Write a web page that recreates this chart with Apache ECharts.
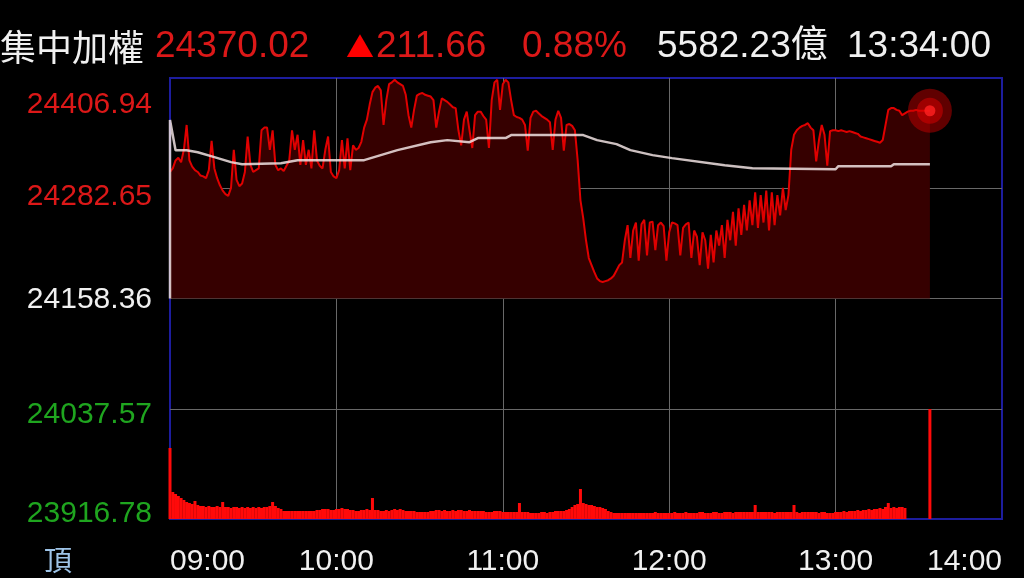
<!DOCTYPE html>
<html>
<head>
<meta charset="utf-8">
<script src="https://cdn.jsdelivr.net/npm/echarts@6/dist/echarts.min.js"></script>
<style>
html,body{margin:0;padding:0;background:#000;}
#chart{width:1024px;height:578px;}
</style>
</head>
<body>
<div id="chart"></div>
<script>
// ---- header values ----
const indexName = '集中加權';
const lastPriceText = '24370.02';
const changeArrow = '▲';
const changeText = '211.66';
const changePctText = '0.88%';
const turnoverText = '5582.23億';
const timeText = '13:34:00';
const topButtonText = '頂';

// ---- axis tick labels ----
const prevClose = 24158.36;
const yTickLabels = ['23916.78', '24037.57', '24158.36', '24282.65', '24406.94'];
const xTickLabels = ['09:00', '10:00', '11:00', '12:00', '13:00', '14:00'];

// ---- price per minute from 09:00 (index = minutes after 09:00) ----
const priceByMinute = [
  24301,24305,24314,24317,24312,24326,24354,24314,24307,24303,
  24301,24297,24296,24294,24303,24336,24305,24294,24286,24280,
  24276,24274,24283,24326,24292,24285,24288,24301,24341,24309,
  24301,24303,24305,24348,24351,24351,24326,24348,24309,24303,
  24305,24302,24308,24314,24348,24326,24343,24309,24337,24309,
  24326,24305,24348,24314,24308,24305,24326,24341,24301,24296,
  24294,24303,24337,24305,24339,24303,24331,24326,24328,24335,
  24351,24360,24377,24391,24396,24398,24393,24354,24382,24400,
  24402,24405,24402,24400,24398,24388,24365,24351,24371,24387,
  24389,24390,24388,24387,24386,24382,24351,24369,24384,24382,
  24380,24377,24374,24373,24348,24331,24360,24369,24348,24328,
  24365,24369,24369,24364,24360,24328,24382,24402,24405,24371,
  24400,24405,24402,24382,24365,24363,24362,24360,24354,24325,
  24362,24369,24370,24367,24364,24362,24360,24357,24326,24360,
  24370,24362,24325,24354,24355,24353,24348,24314,24269,24249,
  24224,24204,24196,24188,24181,24178,24177,24178,24179,24181,
  24184,24190,24196,24199,24224,24241,24204,24235,24244,24201,
  24242,24247,24207,24244,24245,24213,24241,24244,24240,24201,
  24233,24244,24243,24241,24207,24238,24242,24244,24204,24235,
  24228,24196,24233,24224,24192,24230,24199,24235,24218,24241,
  24204,24247,24224,24256,24218,24260,24230,24264,24235,24269,
  24241,24278,24238,24275,24244,24280,24235,24278,24241,24275,
  24252,24283,24258,24275,24326,24343,24348,24351,24353,24354,
  24356,24351,24348,24313,24337,24354,24343,24308,24347,24348,
  24348,24347,24348,24347,24346,24347,24346,24345,24344,24341,
  24340,24339,24338,24337,24336,24335,24334,24337,24354,24371,
  24373,24373,24371,24370,24365,24367,24369,24370,24370,24371,
  24370,24370,24370,24370,24370.02
];

// ---- average price line (minutes after 09:00, value) ----
const avgMinutes = [0, 0, 2, 6, 10, 16, 22, 26, 40, 46, 58, 70, 82, 94, 100, 108, 111, 121, 123, 149, 154, 161, 166, 174, 181, 200, 210, 240, 241, 260, 261, 274];
const avgValues  = [24158.36, 24359.5, 24325.6, 24325.6, 24323.3, 24317.7, 24312.1, 24309.8, 24310.9, 24314.3, 24314.3, 24314.3, 24325.6, 24334.6, 24336.9, 24334.6, 24339.2, 24339.2, 24342.6, 24342.6, 24336.9, 24332.4, 24325.6, 24320.0, 24316.6, 24308.7, 24305.3, 24304.1, 24307.5, 24307.5, 24309.8, 24309.8];

// ---- volume per minute (億) ----
const volumeByMinute = [
  142,54,50,46,42,38,34,32,30,36,
  28,26,26,24,26,24,24,26,24,34,
  24,24,22,24,24,22,24,22,24,22,
  24,22,24,22,24,24,26,34,26,22,
  20,16,16,16,16,16,16,16,16,16,
  16,16,16,18,18,20,20,20,18,18,
  20,20,22,20,20,18,18,16,16,18,
  18,20,18,42,18,18,16,16,18,16,
  18,20,18,20,18,16,16,16,16,14,
  14,14,14,14,16,16,18,18,16,18,
  16,16,18,16,18,18,16,16,18,16,
  16,16,16,16,14,14,14,16,16,16,
  14,14,14,14,14,14,32,14,14,14,
  12,12,12,12,14,14,12,14,14,16,
  16,16,16,18,20,24,28,30,60,32,
  30,28,28,26,24,24,22,20,16,14,
  12,12,12,12,12,12,12,12,12,12,
  12,12,12,12,12,14,12,12,12,12,
  12,12,14,12,12,12,14,12,12,12,
  12,14,14,12,12,12,14,14,12,12,
  14,14,14,12,14,14,14,14,14,14,
  14,28,14,14,14,14,14,14,12,14,
  14,14,14,14,14,28,14,12,14,14,
  14,14,14,14,12,14,14,12,12,12,
  14,14,14,16,14,16,16,16,18,16,
  18,18,20,18,20,20,22,20,24,32,
  22,24,22,24,24,22,0,0,0,0,
  0,0,0,0,220
];

const RED = '#dc1818';
const GREEN = '#1fa51f';
const WHITE = '#f0f0f0';
const FONT = '"Liberation Sans", "Noto Sans CJK TC", sans-serif';

const priceMax = Number(yTickLabels[yTickLabels.length - 1]);
const priceMin = 2 * prevClose - priceMax;

const priceData = priceByMinute.map((v, i) => [i, v]);
const avgData = avgMinutes.map((m, i) => [m, avgValues[i]]);
const volData = volumeByMinute.map((v, i) => [i, v]);
const lastIdx = priceByMinute.length - 1;
const lastPoint = [[lastIdx, priceByMinute[lastIdx]]];

const chart = echarts.init(document.getElementById('chart'), null, {renderer: 'canvas'});

const LBL = 30;
const yRich = {
  s0: {color: GREEN, fontSize: LBL, fontFamily: FONT, padding: [0, 0, 10, 0]},
  s1: {color: GREEN, fontSize: LBL, fontFamily: FONT, padding: [12, 0, 0, 0]},
  s2: {color: WHITE, fontSize: LBL, fontFamily: FONT, padding: [2, 0, 0, 0]},
  s3: {color: RED, fontSize: LBL, fontFamily: FONT, padding: [16, 0, 0, 0]},
  s4: {color: RED, fontSize: LBL, fontFamily: FONT, padding: [54, 0, 0, 0]}
};

const xRich = {
  first: {color: WHITE, fontSize: LBL, fontFamily: FONT, padding: [0, 0, 0, 75]},
  mid: {color: WHITE, fontSize: LBL, fontFamily: FONT},
  last: {color: WHITE, fontSize: LBL, fontFamily: FONT, padding: [0, 75, 0, 0]}
};

const HF = '37px ' + FONT;

const option = {
  backgroundColor: '#000',
  animation: false,
  grid: {
    left: 170, right: 22, top: 78, bottom: 59,
    show: true, borderColor: '#1d1d9e', borderWidth: 2, backgroundColor: '#000'
  },
  graphic: [
    {type: 'text', x: 0, y: 47, style: {text: indexName, fill: WHITE, font: '36px "Noto Sans CJK TC"', verticalAlign: 'middle'}},
    {type: 'text', x: 155, y: 47, style: {text: lastPriceText, fill: RED, font: HF, verticalAlign: 'middle'}},
    {type: 'text', x: 346, y: 47, style: {
      text: '{a|' + changeArrow + '}{b|' + changeText + '}', fill: RED, verticalAlign: 'middle',
      rich: {
        a: {fill: '#ff0000', font: '28px "Noto Sans CJK TC"', padding: [0, 2, 0, 0]},
        b: {fill: RED, font: HF}
      }
    }},
    {type: 'text', x: 522, y: 47, style: {text: changePctText, fill: RED, font: HF, verticalAlign: 'middle'}},
    {type: 'text', x: 657, y: 47, style: {text: turnoverText, fill: WHITE, font: HF, verticalAlign: 'middle'}},
    {type: 'text', x: 847, y: 47, style: {text: timeText, fill: WHITE, font: HF, verticalAlign: 'middle'}},
    {type: 'text', x: 44, y: 560, style: {text: topButtonText, fill: '#9ec4e8', font: '28px "Noto Sans CJK TC"', verticalAlign: 'middle'}}
  ],
  xAxis: [{
    type: 'value', min: 0, max: 300, interval: 60,
    axisLine: {show: false}, axisTick: {show: false},
    splitLine: {show: true, showMinLine: false, showMaxLine: false, lineStyle: {color: '#686868', width: 1}},
    axisLabel: {
      show: true, margin: 28, showMinLabel: true, showMaxLabel: true,
      formatter: function (val) {
        const i = Math.round(val / 60);
        const t = xTickLabels[i];
        if (i === 0) return '{first|' + t + '}';
        if (i === xTickLabels.length - 1) return '{last|' + t + '}';
        return '{mid|' + t + '}';
      },
      rich: xRich
    }
  }],
  yAxis: [
    {
      type: 'category', data: yTickLabels, boundaryGap: false, position: 'left',
      axisLine: {show: false}, axisTick: {show: false},
      splitLine: {show: true, interval: 0, showMinLine: false, showMaxLine: false, lineStyle: {color: '#686868', width: 1}},
      axisLabel: {
        interval: 0, margin: 18,
        formatter: function (val, idx) { return '{s' + idx + '|' + val + '}'; },
        rich: yRich
      }
    },
    {
      type: 'value', min: priceMin, max: priceMax, show: false,
      splitLine: {show: false}
    },
    {
      type: 'value', min: 0, max: 882, show: false,
      splitLine: {show: false}
    }
  ],
  series: [
    {
      name: 'volume', type: 'bar', xAxisIndex: 0, yAxisIndex: 2,
      data: volData, barWidth: 3, itemStyle: {color: '#ff0a0a'}, z: 1, silent: true
    },
    {
      name: 'price', type: 'line', xAxisIndex: 0, yAxisIndex: 1,
      data: priceData, showSymbol: false, symbol: 'none',
      lineStyle: {color: '#e00000', width: 2},
      areaStyle: {color: '#360000', opacity: 1, origin: prevClose},
      z: 2, silent: true
    },
    {
      name: 'average', type: 'line', xAxisIndex: 0, yAxisIndex: 1,
      data: avgData, showSymbol: false, symbol: 'none',
      lineStyle: {color: 'rgba(240,226,226,0.85)', width: 2.5},
      z: 3, silent: true
    },
    {
      name: 'lastHalo', type: 'scatter', xAxisIndex: 0, yAxisIndex: 1,
      data: lastPoint, symbolSize: 44, itemStyle: {color: 'rgba(200,0,0,0.6)'}, z: 5, silent: true
    },
    {
      name: 'lastHalo2', type: 'scatter', xAxisIndex: 0, yAxisIndex: 1,
      data: lastPoint, symbolSize: 26, itemStyle: {color: 'rgba(225,0,0,0.6)'}, z: 6, silent: true
    },
    {
      name: 'lastDot', type: 'scatter', xAxisIndex: 0, yAxisIndex: 1,
      data: lastPoint, symbolSize: 11, itemStyle: {color: '#ff2020'}, z: 7, silent: true
    }
  ]
};

chart.setOption(option);
</script>
</body>
</html>
